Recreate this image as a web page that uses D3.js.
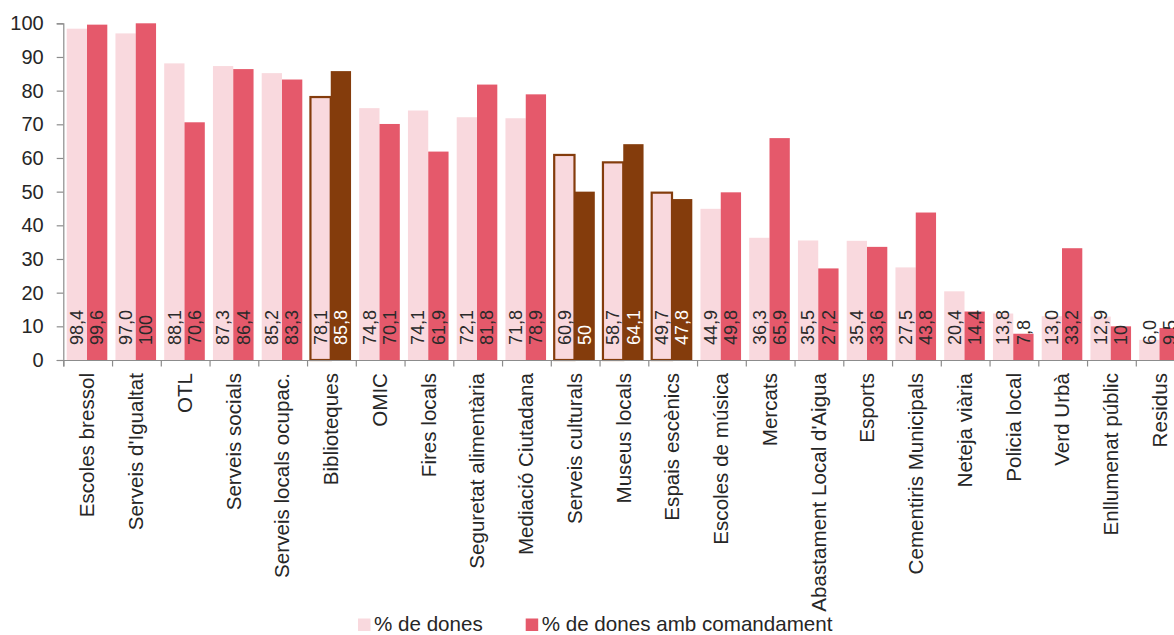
<!DOCTYPE html>
<html>
<head>
<meta charset="utf-8">
<script src="https://cdn.jsdelivr.net/npm/d3@7"></script>
<style>
  html, body { margin: 0; padding: 0; background: #fff; }
  svg { display: block; font-family: "Liberation Sans", Arial, sans-serif; }
</style>
</head>
<body>
<svg id="chart" width="1174" height="635"></svg>
<script>
// Services, in display order
const categories = [
  "Escoles bressol", "Serveis d'Igualtat", "OTL", "Serveis socials",
  "Serveis locals ocupac.", "Biblioteques", "OMIC", "Fires locals",
  "Seguretat alimentària", "Mediació Ciutadana", "Serveis culturals",
  "Museus locals", "Espais escènics", "Escoles de música", "Mercats",
  "Abastament Local d'Aigua", "Esports", "Cementiris Municipals",
  "Neteja viària", "Policia local", "Verd Urbà", "Enllumenat públic", "Residus"
];

// % de dones
const womenPct = [
  98.4, 97.0, 88.1, 87.3, 85.2, 78.1, 74.8, 74.1, 72.1, 71.8, 60.9, 58.7,
  49.7, 44.9, 36.3, 35.5, 35.4, 27.5, 20.4, 13.8, 13.0, 12.9, 6.0
];

// % de dones amb comandament
const womenMgmtPct = [
  99.6, 100, 70.6, 86.4, 83.3, 85.8, 70.1, 61.9, 81.8, 78.9, 50, 64.1,
  47.8, 49.8, 65.9, 27.2, 33.6, 43.8, 14.4, 7.8, 33.2, 10, 9.5
];

// Services shown in the culture palette
const highlighted = ["Biblioteques", "Serveis culturals", "Museus locals", "Espais escènics"];

const yTicks = [0, 10, 20, 30, 40, 50, 60, 70, 80, 90, 100];
const legendLabels = ["% de dones", "% de dones amb comandament"];

const COLORS = { light: "#f9d9de", red: "#e5596b", brown: "#843c0c", text: "#262626", axis: "#8c8c8c" };

const svg = d3.select("#chart");

const x0 = 63.3, bandW = 48.75;
const x = d3.scaleBand()
  .domain(categories)
  .range([x0, x0 + bandW * categories.length])
  .paddingInner(0).paddingOuter(0);

const groupW = 40.6;
const x1 = d3.scaleBand()
  .domain(["w", "m"])
  .range([3.4, 3.4 + groupW]);

const y = d3.scaleLinear().domain([0, 100]).range([360, 23.3]);

const fmtLight = d => d.toFixed(1).replace(".", ",");
const fmtDark = d => (Number.isInteger(d) ? String(d) : d.toFixed(1).replace(".", ","));

const rows = categories.map((c, i) => ({
  cat: c, w: womenPct[i], m: womenMgmtPct[i], hi: highlighted.includes(c)
}));

// Bars
const g = svg.append("g").attr("class", "bars");
const groups = g.selectAll("g.cat").data(rows).join("g")
  .attr("class", "cat")
  .attr("transform", d => `translate(${x(d.cat)},0)`);

groups.append("rect")
  .attr("x", x1("w"))
  .attr("width", x1.bandwidth())
  .attr("y", d => y(d.w))
  .attr("height", d => y(0) - y(d.w))
  .attr("fill", COLORS.light)
  .attr("stroke", d => d.hi ? COLORS.brown : "none")
  .attr("stroke-width", d => d.hi ? 2.2 : 0);

groups.append("rect")
  .attr("x", x1("m"))
  .attr("width", x1.bandwidth())
  .attr("y", d => y(d.m))
  .attr("height", d => y(0) - y(d.m))
  .attr("fill", d => d.hi ? COLORS.brown : COLORS.red);

// Value labels, rotated, sitting at the bar base
function valueLabel(key, fmt, colorFn) {
  groups.append("text")
    .attr("transform", d => `translate(${x1(key) + x1.bandwidth() / 2},${y(0) - 15}) rotate(-90)`)
    .attr("dy", "0.35em")
    .attr("text-anchor", "start")
    .attr("font-size", 18)
    .attr("fill", colorFn)
    .text(d => fmt(d[key]));
}
valueLabel("w", fmtLight, () => "#2a2a2a");
valueLabel("m", fmtDark, d => d.hi ? "#ffffff" : "#2a2a2a");

// Y axis
const yAxis = d3.axisLeft(y).tickValues(yTicks).tickSize(6.6).tickPadding(13).tickFormat(d3.format("d"));
const gy = svg.append("g").attr("transform", `translate(${x0},0)`).call(yAxis);
gy.select(".domain").attr("stroke", COLORS.axis).attr("stroke-width", 1.2);
gy.selectAll(".tick line").attr("stroke", COLORS.axis).attr("stroke-width", 1.2);
gy.selectAll(".tick text").attr("font-size", 20).attr("fill", COLORS.text)
  .attr("font-family", "'Liberation Sans', Arial, sans-serif");

// X axis: boundary ticks
const xb = d3.scaleLinear().domain([0, categories.length]).range(x.range());
const xAxisTicks = d3.axisBottom(xb).tickValues(d3.range(categories.length + 1)).tickSize(6.5).tickFormat("");
const gxb = svg.append("g").attr("transform", `translate(0,${y(0)})`).call(xAxisTicks);
gxb.select(".domain").attr("stroke", COLORS.axis).attr("stroke-width", 1.2);
gxb.selectAll(".tick line").attr("stroke", COLORS.axis).attr("stroke-width", 1.2);

// X axis: category names
const xAxisLabels = d3.axisBottom(x).tickSize(0).tickPadding(0);
const gx = svg.append("g").attr("transform", `translate(0,${y(0)})`).call(xAxisLabels);
gx.select(".domain").remove();
gx.selectAll(".tick text")
  .attr("font-size", 20.6)
  .attr("fill", COLORS.text)
  .attr("font-family", "'Liberation Sans', Arial, sans-serif")
  .attr("text-anchor", "end")
  .attr("transform", "rotate(-90)")
  .attr("x", -13)
  .attr("y", 0)
  .attr("dy", "0.32em");

// Legend
const legendItems = [
  { label: legendLabels[0], color: COLORS.light, x: 358 },
  { label: legendLabels[1], color: COLORS.red, x: 525.7 }
];
const lg = svg.append("g").selectAll("g").data(legendItems).join("g")
  .attr("transform", d => `translate(${d.x},618.5)`);
lg.append("rect").attr("width", 12.5).attr("height", 12.5).attr("fill", d => d.color);
lg.append("text").attr("x", 16).attr("y", 12.3).attr("font-size", 20.6)
  .attr("fill", COLORS.text).text(d => d.label);
</script>
</body>
</html>
